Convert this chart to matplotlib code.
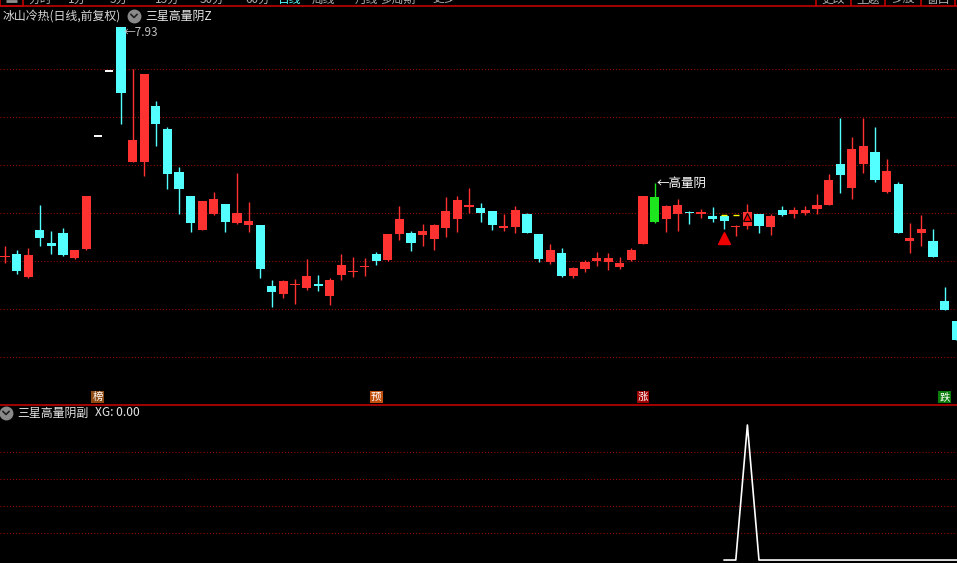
import matplotlib
matplotlib.use('Agg')
import matplotlib.pyplot as plt
import numpy as np

plt.rcParams['font.family'] = ['Noto Sans CJK SC', 'DejaVu Sans']

# daily bars, oldest first
opens = [5.63, 5.66, 5.43, 5.90, 5.77, 5.87, 5.62, 5.71, 6.84, 7.49,
         7.93, 6.58, 6.58, 7.14, 6.91, 6.48, 6.24, 5.90, 6.06, 6.16,
         5.97, 5.95, 5.95, 5.34, 5.26, 5.35, 5.32, 5.36, 5.24, 5.45,
         5.48, 5.53, 5.66, 5.60, 5.86, 5.87, 5.85, 5.81, 5.92, 6.01,
         6.13, 6.12, 6.09, 5.92, 5.93, 6.06, 5.86, 5.58, 5.67, 5.44,
         5.51, 5.59, 5.58, 5.53, 5.60, 5.76, 6.23, 6.01, 6.06, 6.08,
         6.06, 6.04, 6.04, 5.93, 5.94, 6.06, 5.93, 6.10, 6.06, 6.07,
         6.11, 6.15, 6.56, 6.32, 6.56, 6.68, 6.28, 6.36, 5.79, 5.87,
         5.79, 5.19, 4.99]
highs = [5.74, 5.70, 5.72, 6.15, 5.89, 5.92, 5.70, 6.24, 6.84, 7.49,
         7.93, 7.51, 7.46, 7.19, 6.93, 6.53, 6.24, 6.19, 6.28, 6.16,
         6.47, 6.18, 5.95, 5.40, 5.40, 5.41, 5.61, 5.45, 5.42, 5.66,
         5.63, 5.62, 5.68, 5.86, 6.14, 5.89, 5.96, 5.96, 6.23, 6.24,
         6.32, 6.17, 6.09, 6.06, 6.14, 6.07, 5.86, 5.76, 5.72, 5.53,
         5.60, 5.68, 5.67, 5.63, 5.72, 6.24, 6.37, 6.15, 6.21, 6.09,
         6.11, 6.13, 6.04, 5.95, 6.16, 6.06, 6.06, 6.14, 6.13, 6.14,
         6.26, 6.46, 7.02, 6.83, 7.02, 6.93, 6.61, 6.38, 5.97, 6.05,
         5.91, 5.33, 4.99]
lows = [5.57, 5.46, 5.42, 5.74, 5.66, 5.64, 5.61, 5.70, 6.84, 7.49,
        6.96, 6.58, 6.44, 6.74, 6.31, 6.06, 5.88, 5.90, 6.05, 5.88,
        5.96, 5.88, 5.42, 5.13, 5.22, 5.16, 5.30, 5.29, 5.15, 5.40,
        5.43, 5.44, 5.55, 5.59, 5.80, 5.69, 5.74, 5.70, 5.83, 5.88,
        6.07, 5.98, 5.90, 5.89, 5.87, 5.87, 5.58, 5.56, 5.43, 5.42,
        5.48, 5.54, 5.50, 5.51, 5.59, 5.76, 5.97, 5.88, 5.89, 5.96,
        6.02, 5.98, 5.91, 5.84, 5.91, 5.87, 5.85, 6.04, 6.02, 6.05,
        6.06, 6.15, 6.27, 6.21, 6.47, 6.38, 6.27, 5.87, 5.67, 5.74,
        5.63, 5.10, 4.80]
closes = [5.64, 5.49, 5.65, 5.82, 5.74, 5.65, 5.70, 6.24, 6.84, 7.49,
          7.27, 6.80, 7.46, 6.96, 6.46, 6.31, 5.97, 6.19, 6.21, 5.98,
          6.07, 5.99, 5.51, 5.28, 5.39, 5.36, 5.44, 5.34, 5.40, 5.55,
          5.49, 5.54, 5.59, 5.86, 6.01, 5.77, 5.89, 5.95, 6.09, 6.20,
          6.15, 6.07, 5.95, 5.94, 6.10, 5.87, 5.61, 5.70, 5.44, 5.52,
          5.58, 5.62, 5.62, 5.57, 5.70, 6.24, 5.98, 6.14, 6.15, 6.07,
          6.08, 6.01, 5.99, 5.94, 6.08, 5.94, 6.04, 6.05, 6.10, 6.10,
          6.15, 6.40, 6.45, 6.71, 6.74, 6.40, 6.49, 5.87, 5.82, 5.91,
          5.63, 5.10, 4.80]

signal_bar = 56          # 高量阴 bar, drawn green
max_bar = 10
tri_bars = [62, 64]
tri_prices = [5.82, 6.03]
yellow_bars = [62, 63]
yellow_price = 6.05

tags = ['榜', '预', '涨', '跌']
tag_bars = [8, 32, 55, 81]
tag_colors = ['#8e4a12', '#c24f0c', '#9e0000', '#0b7d0b']

price_grid = [7.51, 7.03, 6.55, 6.07, 5.59, 5.11, 4.63]

xg_start = 62
xg = [0, 0, 1, 0, 0, 0, 0, 0, 0, 0, 0, 0, 0, 0, 0, 0, 0, 0, 0, 0, 0]
xg_grid = [0.2, 0.4, 0.6, 0.8]

RED = '#ff3232'
CYAN = '#54ffff'
GREEN = '#1ee61e'
GRID = '#a00000'
W, H = 957, 563

fig = plt.figure(figsize=(W / 100, H / 100), dpi=100, facecolor='black')
ax = fig.add_axes([0, 158 / H, 1, 398 / H])
ax2 = fig.add_axes([0, 0, 1, 158 / H])
deco = fig.add_axes([0, 0, 1, 1])
for a in (ax, ax2):
    a.set_facecolor('black')
    a.set_axis_off()
deco.set_xlim(0, W)
deco.set_ylim(H, 0)
deco.set_axis_off()
deco.patch.set_alpha(0)

n = len(opens)
x = np.arange(n)
ax.set_xlim(-0.43, 82.07)
ax.set_ylim(4.15, 8.13)
ax2.set_xlim(-0.43, 82.07)
ax2.set_ylim(-0.022, 1.148)

for g in price_grid:
    ax.axhline(g, color=GRID, lw=0.75, ls=(0, (1, 2)), zorder=0)
for g in xg_grid:
    ax2.axhline(g, color=GRID, lw=0.75, ls=(0, (1, 2)), zorder=0)

# candles
bw = 0.78
for i in range(n):
    o, h, l, c = opens[i], highs[i], lows[i], closes[i]
    if h == l:
        ax.hlines(o, i - 0.35, i + 0.35, color='white', lw=1.4, zorder=3)
        continue
    col = RED if c >= o else CYAN
    if i == signal_bar:
        col = GREEN
    ax.vlines(i, l, h, color=col, lw=1.0, zorder=2)
    bottom = min(o, c)
    height = max(abs(c - o), 0.012)
    ax.bar(i, height, bw, bottom=bottom, color=col, linewidth=0, zorder=3)

ax.plot(tri_bars[0], tri_prices[0], marker='^', ms=9, color='#ee0000',
        mec='#ee0000', zorder=4)
ax.plot(tri_bars[1], tri_prices[1], marker='^', ms=6, color='#ee0000',
        mec='black', mew=0.8, zorder=4)
for b in yellow_bars:
    ax.hlines(yellow_price, b - 0.28, b + 0.28, color='#ffff00', lw=1.0, zorder=4)

ax.text(max_bar + 0.2, highs[max_bar] - 0.05, '←7.93', color='#c0c0c0',
        fontsize=8.5, va='center', ha='left')
ax.text(signal_bar + 0.2, highs[signal_bar], '←高量阴', color='white',
        fontsize=9, va='center', ha='left')

for t, b, c in zip(tags, tag_bars, tag_colors):
    ax.text(b, 4.23, t, color='white', fontsize=7.5, ha='center', va='center',
            bbox=dict(boxstyle='square,pad=0.12', fc=c, ec='none'))

ax2.plot(np.arange(xg_start, xg_start + len(xg)), xg, color='white', lw=1.2)

# frame lines and headers
deco.axhline(6, color='#c00000', lw=1.2)
deco.axhline(405, color='#c00000', lw=1.2)
deco.add_patch(plt.Rectangle((0, -2), 23, 8, fc='black', ec='#c00000', lw=1.2))
deco.hlines(1, 6, 17, color='#909090', lw=2)
for sx in [816, 851, 885, 921, 955]:
    deco.vlines(sx, 0, 6, color='#c00000', lw=1.2)
menu = ['分时', '1分', '5分', '15分', '30分', '60分', '日线', '周线', '月线', '多周期', '更多']
menu_x = [28, 68, 110, 155, 200, 245, 278, 312, 355, 380, 432]
for m, mx in zip(menu, menu_x):
    col = CYAN if m == '日线' else '#b0b0b0'
    deco.text(mx, -1, m, color=col, fontsize=8.5, ha='left', va='center')
for m, mx in zip(['更改', '主题', '多股', '窗口'], [833, 868, 903, 938]):
    deco.text(mx, -1, m, color='#b0b0b0', fontsize=8.5, ha='center', va='center')

deco.text(3, 16, '冰山冷热(日线,前复权)', color='#d8d8d8', fontsize=8.6,
          ha='left', va='center')
deco.plot(134, 16, marker='o', ms=9, color='#8a8a8a')
deco.plot([131, 134, 137], [14.5, 17.5, 14.5], color='#202020', lw=1.2)
deco.text(145, 16, '三星高量阴Z', color='#e8e8e8', fontsize=8.6, ha='left', va='center')

deco.plot(6, 413, marker='o', ms=9, color='#8a8a8a')
deco.plot([3, 6, 9], [411.5, 414.5, 411.5], color='#202020', lw=1.2)
deco.text(17, 413, '三星高量阴副', color='#e8e8e8', fontsize=8.6, ha='left', va='center')
deco.text(95, 413, 'XG: 0.00', color='#e8e8e8', fontsize=8.6, ha='left', va='center')

fig.savefig('out.png', dpi=100, facecolor='black')
